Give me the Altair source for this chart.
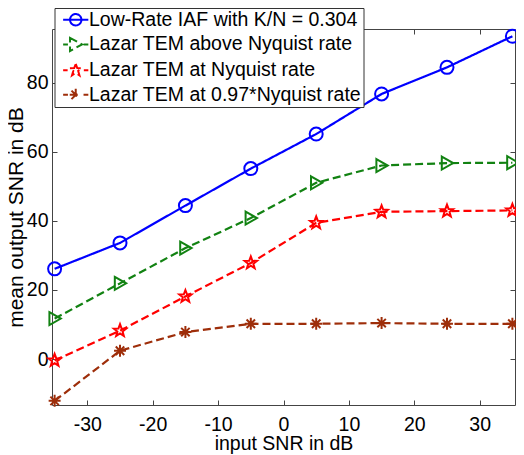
import math
import altair as alt
import pandas as pd

# ---- data ----
x_vals = [-35, -25, -15, -5, 5, 15, 25, 35]
iaf = [26.1, 33.6, 44.4, 55.1, 65.1, 76.7, 84.4, 93.4]
tem_above = [11.7, 21.9, 32.1, 40.8, 51.0, 56.0, 56.7, 56.8]
tem_at = [-0.4, 8.2, 18.1, 27.8, 39.4, 42.6, 42.8, 43.0]
tem_below = [-12.1, 2.4, 7.8, 10.2, 10.2, 10.4, 10.2, 10.2]

names = [
    "Low-Rate IAF with K/N = 0.304",
    "Lazar TEM above Nyquist rate",
    "Lazar TEM at Nyquist rate",
    "Lazar TEM at 0.97*Nyquist rate",
]
series = [iaf, tem_above, tem_at, tem_below]
colors = ["#0000FF", "#128212", "#FF0000", "#9E2E0A"]
dashes = [[1, 0], [8, 4], [8, 4], [8, 4]]
x_ticks = [-30, -20, -10, 0, 10, 20, 30]
y_ticks = [0, 20, 40, 60, 80]


# ---- marker shapes (styles) ----
def star_path(ro, ri, cx=0.0):
    pts = []
    for k in range(10):
        a = math.radians(-90 + 36 * k)
        r = ro if k % 2 == 0 else ri
        pts.append(f"{cx + r*math.cos(a):.3f},{r*math.sin(a):.3f}")
    return "M" + "L".join(pts) + "Z"


def asterisk_path(r, cx=0.0):
    d = r * math.sqrt(0.5)
    return (f"M{cx-r:.3f},0L{cx+r:.3f},0M{cx:.3f},{-r}L{cx:.3f},{r}"
            f"M{cx-d:.3f},{-d:.3f}L{cx+d:.3f},{d:.3f}M{cx-d:.3f},{d:.3f}L{cx+d:.3f},{-d:.3f}")


def seg(a, b):
    return f"M{a:.3f},0L{b:.3f},0"


tri_path = "M-0.8,-1L0.95,0L-0.8,1Z"
shapes = ["circle", tri_path, star_path(1.0, 0.42), asterisk_path(0.92)]

# legend samples: short line piece(s) with the marker, shifted right of the nominal symbol slot
c = 1.58
legend_paths = [
    seg(c - 2.1, c + 2.1)
    + f"M{c+0.95:.3f},0A0.95,0.95 0 1,1 {c-0.95:.3f},0A0.95,0.95 0 1,1 {c+0.95:.3f},0",
    seg(c - 2.1, c - 1.3)
    + f"M{c-0.95:.3f},-1.1L{c+1.05:.3f},0L{c-0.95:.3f},1.1Z"
    + seg(c + 1.3, c + 2.1),
    seg(c - 2.1, c - 1.35) + star_path(1.05, 0.43, c) + seg(c + 1.35, c + 2.1),
    seg(c - 2.1, c - 1.3) + asterisk_path(1.0, c) + seg(c + 1.3, c + 2.1),
]

rows = []
for name, col, shp, ys_ in zip(names, colors, shapes, series):
    for xv, yv in zip(x_vals, ys_):
        rows.append({"x": xv, "y": yv, "series": name, "col": col, "shp": shp})
df = pd.DataFrame(rows)

W, H = 463, 376
xs = alt.Scale(domain=[-35.4, 35.4], nice=False, zero=False)
ys = alt.Scale(domain=[-13.3, 95.5], nice=False, zero=False)
tick_color = "#444444"
font = "Liberation Sans, Arial, sans-serif"

tick_only = dict(labels=False, ticks=True, tickSize=5, tickColor=tick_color,
                 tickWidth=1, domain=False, grid=False, title=None)

lines = alt.Chart(df).mark_line(strokeWidth=2.2).encode(
    x=alt.X("x:Q", scale=xs, axis=alt.Axis(orient="bottom", values=x_ticks, ticks=False,
                                           domain=False, grid=False, labelPadding=10,
                                           labelExpr="'' + datum.value",
                                           title="input SNR in dB", titlePadding=1)),
    y=alt.Y("y:Q", scale=ys, axis=alt.Axis(orient="left", values=y_ticks, ticks=False,
                                           domain=False, grid=False, labelPadding=4,
                                           labelExpr="'' + datum.value",
                                           title="mean output SNR in dB", titlePadding=0,
                                           titleFontSize=21)),
    color=alt.Color("col:N", scale=None),
    strokeDash=alt.StrokeDash("series:N", scale=alt.Scale(domain=names, range=dashes),
                              legend=None),
    detail="series:N",
)

points = alt.Chart(df).mark_point(filled=False, size=169, strokeWidth=2, opacity=1).encode(
    x=alt.X("x:Q", scale=xs, axis=alt.Axis(orient="top", offset=-H, values=x_ticks, **tick_only)),
    y=alt.Y("y:Q", scale=ys, axis=alt.Axis(orient="right", offset=-W, values=y_ticks, **tick_only)),
    color=alt.Color("col:N", scale=None),
    shape=alt.Shape("shp:N", scale=None),
)

legend_layer = alt.Chart(df).transform_filter("false").mark_point(
    filled=False, size=144, strokeWidth=2, opacity=1
).encode(
    x=alt.X("x:Q", scale=xs, axis=alt.Axis(orient="bottom", offset=-H, values=x_ticks, **tick_only)),
    y=alt.Y("y:Q", scale=ys, axis=alt.Axis(orient="left", offset=-W, values=y_ticks, **tick_only)),
    color=alt.Color("series:N", scale=alt.Scale(domain=names, range=colors),
                    legend=alt.Legend(title=None)),
    shape=alt.Shape("series:N", scale=alt.Scale(domain=names, range=legend_paths),
                    legend=alt.Legend(title=None)),
)

chart = alt.layer(lines, points, legend_layer).resolve_axis(
    x="independent", y="independent"
).properties(
    width=W, height=H,
    autosize=alt.AutoSizeParams(type="none"),
    padding={"left": 44, "top": 21, "right": 1, "bottom": 49},
).configure_view(
    stroke=tick_color, strokeWidth=1
).configure_axis(
    labelFont=font, labelFontSize=19.5, labelColor="black",
    titleFont=font, titleFontSize=19.5, titleFontWeight="normal", titleColor="black",
).configure_legend(
    orient="none", legendX=2.5, legendY=-21,
    strokeColor="#333333", fillColor="white", padding=2, cornerRadius=0,
    symbolSize=144, symbolStrokeWidth=2, symbolOpacity=1,
    labelFont=font, labelFontSize=19.5, labelColor="black", labelOffset=13,
    labelLimit=0, rowPadding=3.7,
)

chart.save("out.html", embed_options={"renderer": "svg", "actions": False})
